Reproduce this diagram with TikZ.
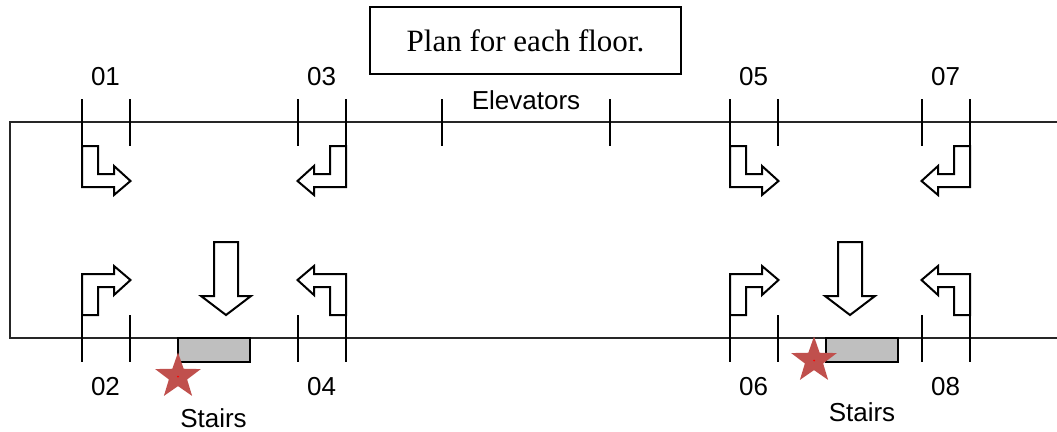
\documentclass[tikz,border=0pt]{standalone}
\usepackage{fontspec}
\setmainfont{Liberation Sans}
\newfontfamily\titlefont{Liberation Serif}
\usetikzlibrary{shapes.geometric}
\definecolor{stairgray}{HTML}{BFBFBF}
\definecolor{starred}{HTML}{C0504D}
\newcommand{\planfontsize}{\fontsize{26}{30}\selectfont}
\tikzstyle{wall}=[line width=2pt, draw=black!85]
\tikzstyle{doortick}=[line width=2pt, draw=black]
\tikzstyle{turnarrow}=[line width=2pt, draw=black, fill=white, line join=miter]
\tikzstyle{roomlabel}=[inner sep=0, font=\planfontsize]
\tikzstyle{stairbox}=[line width=2pt, draw=black, fill=stairgray]
\tikzstyle{firestar}=[star, star points=5, star point ratio=2.5, fill=starred, inner sep=0, minimum size=48pt]
% One door: two ticks across the wall at y = #2.
\newcommand{\doorticks}[3]{%
  \draw[doortick] (#1, #2-23.5) -- (#1, #2+23.5);
  \draw[doortick] (#3, #2-23.5) -- (#3, #2+23.5);}
% Bent arrow out of a door: hinge at (#1, #2), mirrored by #3 and #4.
\newcommand{\bentarrow}[4]{%
  \draw[turnarrow, shift={(#1, #2)}, xscale=#3, yscale=#4]
    (0, 0) -- (16, 0) -- (16, 28) -- (32, 28) -- (32, 20) -- (48.5, 35)
    -- (32, 49) -- (32, 41) -- (0, 41) -- cycle;}
% Straight arrow down to the stairs, tip at (#1, 315).
\newcommand{\stairarrow}[1]{%
  \draw[turnarrow, shift={(#1, 315)}]
    (-12, -73) -- (12, -73) -- (12, -19) -- (25, -19) -- (0, 0)
    -- (-25, -19) -- (-12, -19) -- cycle;}

\begin{document}
\begin{tikzpicture}[x=1pt, y=-1pt]
    \useasboundingbox (0, 0) rectangle (1057, 431);
    % Corridor walls.
    \draw[wall] (1057, 122) -- (10, 122) -- (10, 338) -- (1057, 338);
    % Doors, top row.
    \doorticks{82}{122.5}{130}
    \doorticks{298}{122.5}{346}
    \doorticks{442}{122.5}{610}
    \doorticks{730}{122.5}{778}
    \doorticks{922}{122.5}{970}
    % Doors, bottom row.
    \doorticks{82}{338.5}{130}
    \doorticks{298}{338.5}{346}
    \doorticks{730}{338.5}{778}
    \doorticks{922}{338.5}{970}
    % Arrows.
    \bentarrow{82}{146}{1}{1}
    \bentarrow{346}{146}{-1}{1}
    \bentarrow{730}{146}{1}{1}
    \bentarrow{970}{146}{-1}{1}
    \bentarrow{82}{315}{1}{-1}
    \bentarrow{346}{315}{-1}{-1}
    \bentarrow{730}{315}{1}{-1}
    \bentarrow{970}{315}{-1}{-1}
    \stairarrow{226}
    \stairarrow{850}
    % Stairs.
    \draw[stairbox] (178, 338) rectangle (250, 362);
    \draw[stairbox] (826, 338) rectangle (898, 362);
    \node[firestar] (S1) at (178, 376.5) {};
    \node[firestar] (S2) at (814, 360.5) {};
    \fill[red] (S1.center) circle (1pt);
    \fill[red] (S2.center) circle (1pt);
    % Labels.
    \node[roomlabel] (R1) at (105.5, 77) {01};
    \node[roomlabel] (R3) at (321.5, 77) {03};
    \node[roomlabel] (R5) at (753.5, 77) {05};
    \node[roomlabel] (R7) at (945.5, 77) {07};
    \node[roomlabel] (R2) at (105.5, 387) {02};
    \node[roomlabel] (R4) at (321.5, 387) {04};
    \node[roomlabel] (R6) at (753.5, 387) {06};
    \node[roomlabel] (R8) at (945.5, 387) {08};
    \node[roomlabel] (L1) at (526, 100) {Elevators};
    \node[roomlabel] (L2) at (213.5, 418) {Stairs};
    \node[roomlabel] (L3) at (862, 412) {Stairs};
    \node[draw, line width=2pt, minimum width=311pt, minimum height=67pt, inner sep=0,
          font=\titlefont\fontsize{31}{36}\selectfont] (T) at (525.5, 40.5) {Plan for each floor.};
\end{tikzpicture}
\end{document}
